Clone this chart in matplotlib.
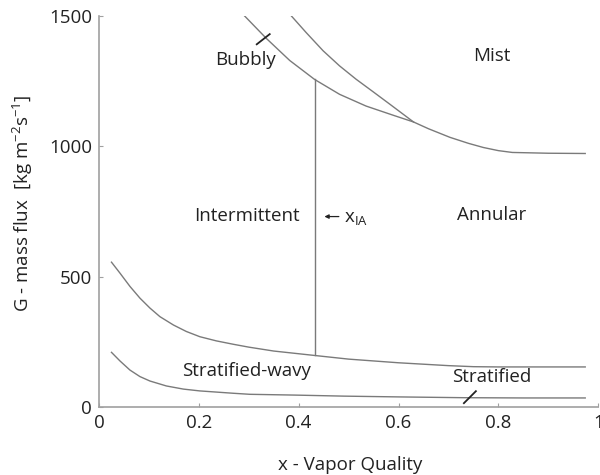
import numpy as np
import matplotlib
matplotlib.use('Agg')
from matplotlib import pyplot as plt

plt.rcParams['font.family'] = ['Open Sans', 'DejaVu Sans']

# boundary curves
strat_x = [0.025, 0.042, 0.062, 0.082, 0.102, 0.135, 0.169, 0.202, 0.269, 0.302,
           0.392, 0.49, 0.6, 0.73, 0.85, 0.974]
strat_G = [210, 177, 142, 117, 100, 81, 69, 62, 53, 49, 46, 42, 39, 36, 35, 35]

wavy_x = [0.025, 0.042, 0.062, 0.082, 0.102, 0.122, 0.149, 0.175, 0.202, 0.235,
          0.269, 0.30, 0.35, 0.432, 0.5, 0.6, 0.7, 0.75, 0.8, 0.85, 0.974]
wavy_G = [556, 514, 463, 418, 380, 347, 315, 290, 270, 254,
          241, 230, 215, 198, 184, 170, 159, 155, 154, 154, 154]

bubbly_x = [0.288, 0.335, 0.382, 0.432, 0.482, 0.535, 0.589, 0.63, 0.66,
            0.703, 0.74, 0.77, 0.8, 0.828, 0.9, 0.974]
bubbly_G = [1508, 1415, 1330, 1257, 1200, 1155, 1120, 1094, 1068,
            1035, 1012, 996, 984, 977, 974, 973]

mist_x = [0.382, 0.415, 0.449, 0.482, 0.515, 0.549, 0.582, 0.63]
mist_G = [1508, 1437, 1367, 1309, 1258, 1210, 1163, 1094]

x_IA = 0.432
x_IA_G = [198, 1257]

regions = ['Bubbly', 'Mist', 'Intermittent', 'Annular', 'Stratified-wavy', 'Stratified']
region_x = [0.294, 0.786, 0.296, 0.786, 0.296, 0.786]
region_G = [1331, 1346, 735, 738, 138, 115]

xticks = [0, 0.2, 0.4, 0.6, 0.8, 1]
xticklabels = ['0', '0.2', '0.4', '0.6', '0.8', '1']
yticks = [0, 500, 1000, 1500]

fs = 13.5
lc = '#7a7a7a'
tc = '#222222'
fig = plt.figure(figsize=(6, 4.75), dpi=100)
ax = fig.add_axes([0.165, 0.143, 0.832, 0.823])

ax.plot(strat_x, strat_G, color=lc, lw=1)
ax.plot(wavy_x, wavy_G, color=lc, lw=1)
ax.plot(bubbly_x, bubbly_G, color=lc, lw=1)
ax.plot(mist_x, mist_G, color=lc, lw=1)
ax.plot([x_IA, x_IA], x_IA_G, color=lc, lw=1)

# little pointer ticks
ax.plot([0.316, 0.342], [1392, 1431], color=tc, lw=1.3)
ax.plot([0.731, 0.755], [15, 61], color=tc, lw=1.3)

for name, xx, gg in zip(regions, region_x, region_G):
    ax.text(xx, gg, name, ha='center', va='center', fontsize=fs, color=tc)

ax.annotate('', xy=(0.446, 731), xytext=(0.486, 731),
            arrowprops=dict(arrowstyle='-|>', color=tc, lw=0.9, mutation_scale=6))
ax.text(0.49, 722, r'x$_{\mathregular{IA}}$', ha='left', va='center', fontsize=fs, color=tc)

ax.set_xlim(0, 1)
ax.set_ylim(0, 1500)
ax.set_xticks(xticks)
ax.set_xticklabels(xticklabels)
ax.set_yticks(yticks)
for s in ['top', 'right']:
    ax.spines[s].set_visible(False)
for s in ['left', 'bottom']:
    ax.spines[s].set_color('#a0a0a0')
    ax.spines[s].set_linewidth(1.2)
ax.tick_params(direction='in', length=3, color='#a0a0a0', labelsize=fs, labelcolor=tc, pad=5)

fig.text(0.583, 0.022, 'x - Vapor Quality', ha='center', va='center', fontsize=fs, color=tc)
fig.text(0.037, 0.573, r'G - mass flux  [kg m$^{\mathregular{-2}}$s$^{\mathregular{-1}}$]', rotation=90,
         ha='center', va='center', fontsize=fs, color=tc)

plt.savefig('out.png', dpi=100)
